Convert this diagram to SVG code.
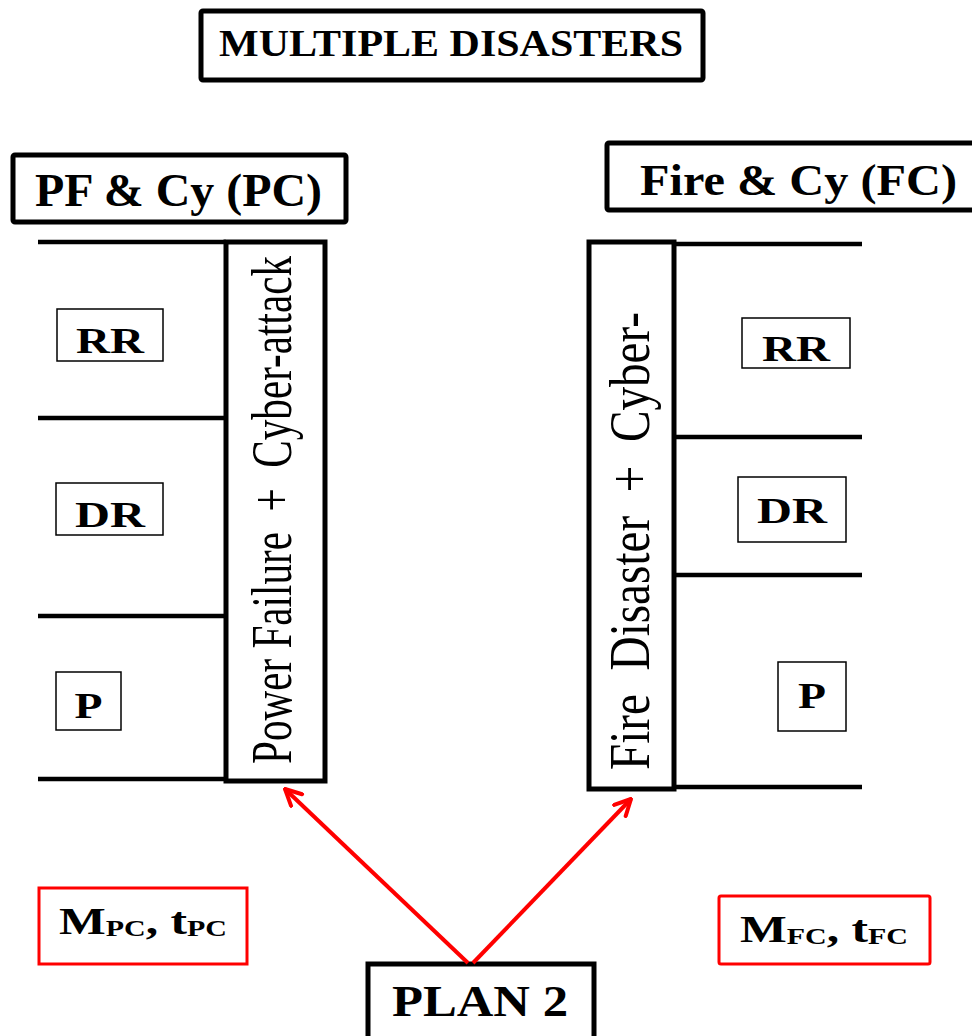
<svg xmlns="http://www.w3.org/2000/svg" width="972" height="1036" viewBox="0 0 972 1036">
  <style>
    .box { fill: #fff; stroke: #000; stroke-width: 5; }
    .thin { fill: #fff; stroke: #000; stroke-width: 1.5; }
    .red { fill: #fff; stroke: #ff0000; stroke-width: 3; }
    .rule { stroke: #000; stroke-width: 4.5; fill: none; }
    .b { font-family: "Liberation Serif", "Times New Roman", serif; font-weight: bold; fill: #000; }
    .r { font-family: "Liberation Serif", "Times New Roman", serif; font-weight: normal; fill: #000; white-space: pre; }
    .arrow { stroke: #ff0000; stroke-width: 4; fill: none; }
  </style>
  <defs>
    <marker id="head" viewBox="0 0 10 10" refX="9" refY="5" markerWidth="5" markerHeight="5" orient="auto" markerUnits="strokeWidth">
      <path d="M1,1 L9,5 L1,9" fill="none" stroke="#ff0000" stroke-width="2" stroke-linecap="round" stroke-linejoin="round"/>
    </marker>
  </defs>
  <rect width="972" height="1036" fill="#fff"/>

  <g id="title">
    <rect class="box" x="201" y="11" width="502" height="69" rx="2"/>
    <text class="b" x="219" y="56" font-size="37" textLength="464" lengthAdjust="spacingAndGlyphs">MULTIPLE DISASTERS</text>
  </g>

  <!-- left column: power failure + cyber-attack -->
  <g id="pc-header">
    <rect class="box" x="13" y="155" width="333" height="67" rx="2"/>
    <text class="b" x="35" y="206" font-size="46" textLength="287" lengthAdjust="spacingAndGlyphs">PF &amp; Cy (PC)</text>
  </g>
  <g id="pc-rules">
    <line class="rule" x1="38" y1="242" x2="226" y2="242"/>
    <line class="rule" x1="38" y1="418" x2="226" y2="418"/>
    <line class="rule" x1="38" y1="616" x2="226" y2="616"/>
    <line class="rule" x1="38" y1="779" x2="226" y2="779"/>
  </g>
  <g id="pc-event">
    <rect class="box" x="226" y="242" width="99" height="539"/>
    <text class="r" xml:space="preserve" transform="translate(291,764) rotate(-90)" font-size="58" textLength="508" lengthAdjust="spacingAndGlyphs">Power Failure  +  Cyber-attack</text>
  </g>
  <g id="pc-rr">
    <rect class="thin" x="57" y="309" width="106" height="52"/>
    <text class="b" x="110" y="353" font-size="36" text-anchor="middle" textLength="68" lengthAdjust="spacingAndGlyphs">RR</text>
  </g>
  <g id="pc-dr">
    <rect class="thin" x="56" y="483" width="107" height="52"/>
    <text class="b" x="110" y="527" font-size="36" text-anchor="middle" textLength="70" lengthAdjust="spacingAndGlyphs">DR</text>
  </g>
  <g id="pc-p">
    <rect class="thin" x="56" y="672" width="65" height="58"/>
    <text class="b" x="88.5" y="718" font-size="36" text-anchor="middle" textLength="28" lengthAdjust="spacingAndGlyphs">P</text>
  </g>

  <!-- right column: fire + cyber-attack -->
  <g id="fc-header">
    <rect class="box" x="607" y="143" width="370" height="67" rx="2"/>
    <text class="b" x="640" y="195" font-size="45" textLength="317" lengthAdjust="spacingAndGlyphs">Fire &amp; Cy (FC)</text>
  </g>
  <g id="fc-rules">
    <line class="rule" x1="673" y1="244" x2="862" y2="244"/>
    <line class="rule" x1="673" y1="437" x2="862" y2="437"/>
    <line class="rule" x1="673" y1="575" x2="862" y2="575"/>
    <line class="rule" x1="673" y1="787" x2="862" y2="787"/>
  </g>
  <g id="fc-event">
    <rect class="box" x="589" y="242" width="85" height="547"/>
    <text class="r" xml:space="preserve" transform="translate(649,770) rotate(-90)" font-size="56" textLength="458" lengthAdjust="spacingAndGlyphs">Fire  Disaster  +  Cyber-</text>
  </g>
  <g id="fc-rr">
    <rect class="thin" x="742" y="318" width="108" height="50"/>
    <text class="b" x="796" y="361" font-size="36" text-anchor="middle" textLength="68" lengthAdjust="spacingAndGlyphs">RR</text>
  </g>
  <g id="fc-dr">
    <rect class="thin" x="738" y="477" width="108" height="65"/>
    <text class="b" x="792" y="523" font-size="36" text-anchor="middle" textLength="70" lengthAdjust="spacingAndGlyphs">DR</text>
  </g>
  <g id="fc-p">
    <rect class="thin" x="778" y="662" width="68" height="69"/>
    <text class="b" x="812" y="708" font-size="36" text-anchor="middle" textLength="28" lengthAdjust="spacingAndGlyphs">P</text>
  </g>

  <!-- metrics -->
  <g id="pc-metric">
    <rect class="red" x="39" y="888" width="208" height="76"/>
    <text class="b" x="59" y="934" font-size="38" textLength="168" lengthAdjust="spacingAndGlyphs">M<tspan font-size="23" dy="2">PC</tspan><tspan dy="-2">, t</tspan><tspan font-size="23" dy="2">PC</tspan></text>
  </g>
  <g id="fc-metric">
    <rect class="red" x="719" y="896" width="211" height="68" rx="2"/>
    <text class="b" x="740" y="942" font-size="38" textLength="168" lengthAdjust="spacingAndGlyphs">M<tspan font-size="23" dy="2">FC</tspan><tspan dy="-2">, t</tspan><tspan font-size="23" dy="2">FC</tspan></text>
  </g>

  <g id="plan">
    <rect class="box" x="368" y="964" width="226" height="80"/>
    <text class="b" x="392" y="1016" font-size="44" textLength="176" lengthAdjust="spacingAndGlyphs">PLAN 2</text>
  </g>

  <g id="connectors">
    <line class="arrow" x1="468" y1="963" x2="285" y2="789" marker-end="url(#head)"/>
    <line class="arrow" x1="473" y1="963" x2="631" y2="799" marker-end="url(#head)"/>
  </g>
</svg>
